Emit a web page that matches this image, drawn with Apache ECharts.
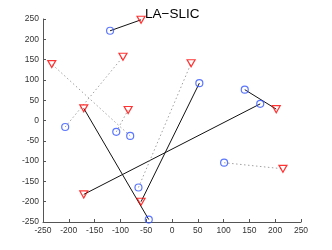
<!DOCTYPE html>
<html><head><meta charset="utf-8">
<script src="https://cdn.jsdelivr.net/npm/echarts@6/dist/echarts.min.js"></script>
<style>html,body{margin:0;padding:0;background:#fff}#c{width:332px;height:250px}</style>
</head><body><div id="c"></div>
<script>
const title = "LA\u2212SLIC";
const axisTicks = [-250,-200,-150,-100,-50,0,50,100,150,200,250];
// pairs: circle (blue) linked to triangle (red)
const circleX   = [-120, -207, -45, 53, 141, 171, -65, -108, -81, 101];
const circleY   = [ 221,  -16, -244, 92,  76,  41, -165, -28, -38, -104];
const triangleX = [ -60,  -95, -171, -60, 202, -171,  37,  -85, -233, 215];
const triangleY = [ 248,  157,   30, -200,  28, -182, 141,   26,  139, -119];
const linkSolid = [true, false, true, true, true, true, false, false, false, false];

const series = [];
for (let i = 0; i < circleX.length; i++) {
  series.push({
    type: 'line', silent: true, symbol: 'none', z: 1,
    data: [[circleX[i], circleY[i]], [triangleX[i], triangleY[i]]],
    lineStyle: linkSolid[i]
      ? {color: '#111', width: 1, type: 'solid'}
      : {color: '#a0a0a0', width: 1, type: [1.5, 2.5]}
  });
}
series.push({
  type: 'scatter', z: 3, symbol: 'circle', symbolSize: 7,
  data: circleX.map((x, i) => [x, circleY[i]]),
  itemStyle: {color: 'rgba(0,0,0,0)', borderColor: '#3355ff', borderWidth: 1.2}
});
series.push({
  type: 'scatter', z: 3, symbol: 'triangle', symbolRotate: 180, symbolSize: [8, 7],
  data: triangleX.map((x, i) => [x, triangleY[i]]),
  itemStyle: {color: 'rgba(0,0,0,0)', borderColor: '#ff0000', borderWidth: 1.2}
});

const axisCommon = {
  type: 'value', min: axisTicks[0], max: axisTicks[axisTicks.length - 1], interval: 50,
  splitLine: {show: false},
  axisLine: {show: true, onZero: false, lineStyle: {color: '#555', width: 1}},
  axisTick: {show: true, inside: true, length: 3, lineStyle: {color: '#555'}},
  axisLabel: {color: '#333', fontSize: 8.5, fontFamily: 'Liberation Sans, Arial, sans-serif', margin: 4}
};

const chart = echarts.init(document.getElementById('c'), null, {renderer: 'canvas'});
chart.setOption({
  animation: false,
  title: {text: title, left: 140, top: 2,
    textStyle: {fontSize: 13.5, fontWeight: 'normal', color: '#000', fontFamily: 'Liberation Sans, Arial, sans-serif'}},
  grid: {left: 43, right: 31, top: 19, bottom: 28, containLabel: false},
  xAxis: Object.assign({}, axisCommon),
  yAxis: Object.assign({}, axisCommon),
  series: series
});
</script></body></html>
